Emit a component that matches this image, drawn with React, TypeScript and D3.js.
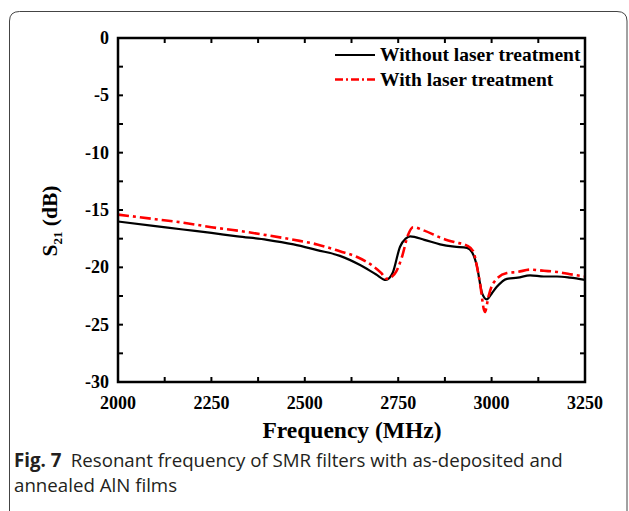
import React, { useEffect, useRef } from 'react';
import * as d3 from 'd3';

// S21 curves (frequency in MHz, S21 in dB)
const freqWithout = [2000, 2100, 2174, 2250, 2320, 2399, 2470, 2533, 2594, 2648, 2690, 2717, 2735, 2755, 2770, 2782, 2820, 2862, 2900, 2934, 2948, 2960, 2975, 2987, 3000, 3014, 3041, 3070, 3103, 3140, 3175, 3210, 3250];
const s21Without = [-16.0, -16.4, -16.7, -17.0, -17.3, -17.6, -18.0, -18.5, -19.0, -19.8, -20.6, -21.1, -20.5, -18.2, -17.5, -17.3, -17.6, -18.0, -18.2, -18.3, -18.7, -19.8, -22.3, -22.8, -22.3, -21.7, -21.0, -20.9, -20.7, -20.8, -20.8, -20.9, -21.1];

const freqWith = [2000, 2100, 2174, 2250, 2320, 2399, 2470, 2533, 2594, 2640, 2683, 2705, 2719, 2740, 2760, 2776, 2790, 2820, 2862, 2900, 2934, 2951, 2960, 2969, 2982, 2992, 3004, 3041, 3070, 3103, 3140, 3175, 3210, 3250];
const s21With = [-15.4, -15.8, -16.1, -16.5, -16.8, -17.2, -17.6, -18.0, -18.6, -19.1, -19.9, -20.5, -21.0, -20.6, -19.1, -17.2, -16.5, -16.8, -17.4, -17.8, -18.1, -18.6, -19.8, -21.4, -23.9, -22.5, -21.4, -20.5, -20.4, -20.2, -20.3, -20.4, -20.6, -20.8];

const xTicks = [2000, 2250, 2500, 2750, 3000, 3250];
const yTicks = [0, -5, -10, -15, -20, -25, -30];
const legendLabels = ['Without laser treatment', 'With laser treatment'];

const W = 629;
const H = 511;
const serif = '"Liberation Serif", "Times New Roman", serif';

const App = () => {
  const svgRef = useRef<SVGSVGElement>(null);

  useEffect(() => {
    const svg = d3.select(svgRef.current);
    svg.selectAll('*').remove();

    const margin = { top: 38, right: 44, bottom: 129, left: 118 };
    const x = d3.scaleLinear().domain([2000, 3250]).range([margin.left, W - margin.right]);
    const y = d3.scaleLinear().domain([-30, 0]).range([H - margin.bottom, margin.top]);

    // outer card border
    svg.append('path')
      .attr('d', `M9.5,${H + 5} L9.5,21 Q9.5,11.5 19.5,11.5 L${W - 12},11.5 Q${W - 2},11.5 ${W - 2},21 L${W - 2},${H + 5}`)
      .attr('fill', 'none')
      .attr('stroke', '#444')
      .attr('stroke-width', 1);

    const line = d3.line<[number, number]>()
      .x(d => x(d[0]))
      .y(d => y(d[1]))
      .curve(d3.curveMonotoneX);

    // inward ticks on all four sides
    const minorX = d3.range(2000, 3251, 125);
    const minorY = d3.range(-30, 0.01, 2.5);
    const tickLen = 5;
    const g = svg.append('g').attr('stroke', '#000').attr('stroke-width', 2);
    minorX.forEach(v => {
      g.append('line').attr('x1', x(v)).attr('x2', x(v)).attr('y1', y(-30)).attr('y2', y(-30) - tickLen);
      g.append('line').attr('x1', x(v)).attr('x2', x(v)).attr('y1', y(0)).attr('y2', y(0) + tickLen);
    });
    minorY.forEach(v => {
      g.append('line').attr('x1', x(2000)).attr('x2', x(2000) + tickLen).attr('y1', y(v)).attr('y2', y(v));
      g.append('line').attr('x1', x(3250)).attr('x2', x(3250) - tickLen).attr('y1', y(v)).attr('y2', y(v));
    });

    // data lines
    svg.append('path')
      .datum(freqWithout.map((f, i) => [f, s21Without[i]] as [number, number]))
      .attr('fill', 'none')
      .attr('stroke', '#000')
      .attr('stroke-width', 2.2)
      .attr('d', line);

    svg.append('path')
      .datum(freqWith.map((f, i) => [f, s21With[i]] as [number, number]))
      .attr('fill', 'none')
      .attr('stroke', '#ff0000')
      .attr('stroke-width', 2.6)
      .attr('stroke-dasharray', '11,4,3,4')
      .attr('d', line);

    // frame
    svg.append('rect')
      .attr('x', x(2000)).attr('y', y(0))
      .attr('width', x(3250) - x(2000)).attr('height', y(-30) - y(0))
      .attr('fill', 'none').attr('stroke', '#000').attr('stroke-width', 2.5);

    // tick labels
    svg.append('g').selectAll('text')
      .data(xTicks).enter().append('text')
      .attr('x', d => x(d)).attr('y', y(-30) + 27)
      .attr('text-anchor', 'middle')
      .attr('font-family', serif).attr('font-weight', 'bold').attr('font-size', 18)
      .text(d => d);

    svg.append('g').selectAll('text')
      .data(yTicks).enter().append('text')
      .attr('x', x(2000) - 9).attr('y', d => y(d) + 6)
      .attr('text-anchor', 'end')
      .attr('font-family', serif).attr('font-weight', 'bold').attr('font-size', 18)
      .text(d => d);

    // axis titles
    svg.append('text')
      .attr('x', 352).attr('y', 438)
      .attr('text-anchor', 'middle')
      .attr('font-family', serif).attr('font-weight', 'bold').attr('font-size', 23.5)
      .text('Frequency (MHz)');

    const yl = svg.append('text')
      .attr('transform', `translate(57,221) rotate(-90)`)
      .attr('text-anchor', 'middle')
      .attr('font-family', serif).attr('font-weight', 'bold').attr('font-size', 21.5);
    yl.append('tspan').text('S');
    yl.append('tspan').attr('font-size', 13).attr('dy', 5).text('21');
    yl.append('tspan').attr('dy', -5).text(' (dB)');

    // legend
    const lg = svg.append('g').attr('font-family', serif).attr('font-weight', 'bold').attr('font-size', 19.5);
    const ly = [55, 79.5];
    lg.append('line').attr('x1', 335).attr('x2', 375).attr('y1', ly[0]).attr('y2', ly[0])
      .attr('stroke', '#000').attr('stroke-width', 2.2);
    lg.append('line').attr('x1', 335).attr('x2', 375).attr('y1', ly[1]).attr('y2', ly[1])
      .attr('stroke', '#ff0000').attr('stroke-width', 2.6).attr('stroke-dasharray', '8,3,2,3');
    legendLabels.forEach((t, i) => {
      lg.append('text').attr('x', 380).attr('y', ly[i] + 6).text(t);
    });

    // caption
    const cap = svg.append('g').attr('font-family', '"Open Sans", "Noto Sans", sans-serif').attr('font-size', 18.7).attr('fill', '#231f20');
    const l1 = cap.append('text').attr('x', 14).attr('y', 467);
    l1.append('tspan').attr('font-weight', 'bold').text('Fig. 7');
    l1.append('tspan').text('\u2002Resonant frequency of SMR filters with as-deposited and');
    cap.append('text').attr('x', 14).attr('y', 492).text('annealed AlN films');
  }, []);

  return (
    <svg ref={svgRef} width={W} height={H}
      style={{ position: 'absolute', left: 0, top: 0, background: '#fff' }} />
  );
};

export default App;
